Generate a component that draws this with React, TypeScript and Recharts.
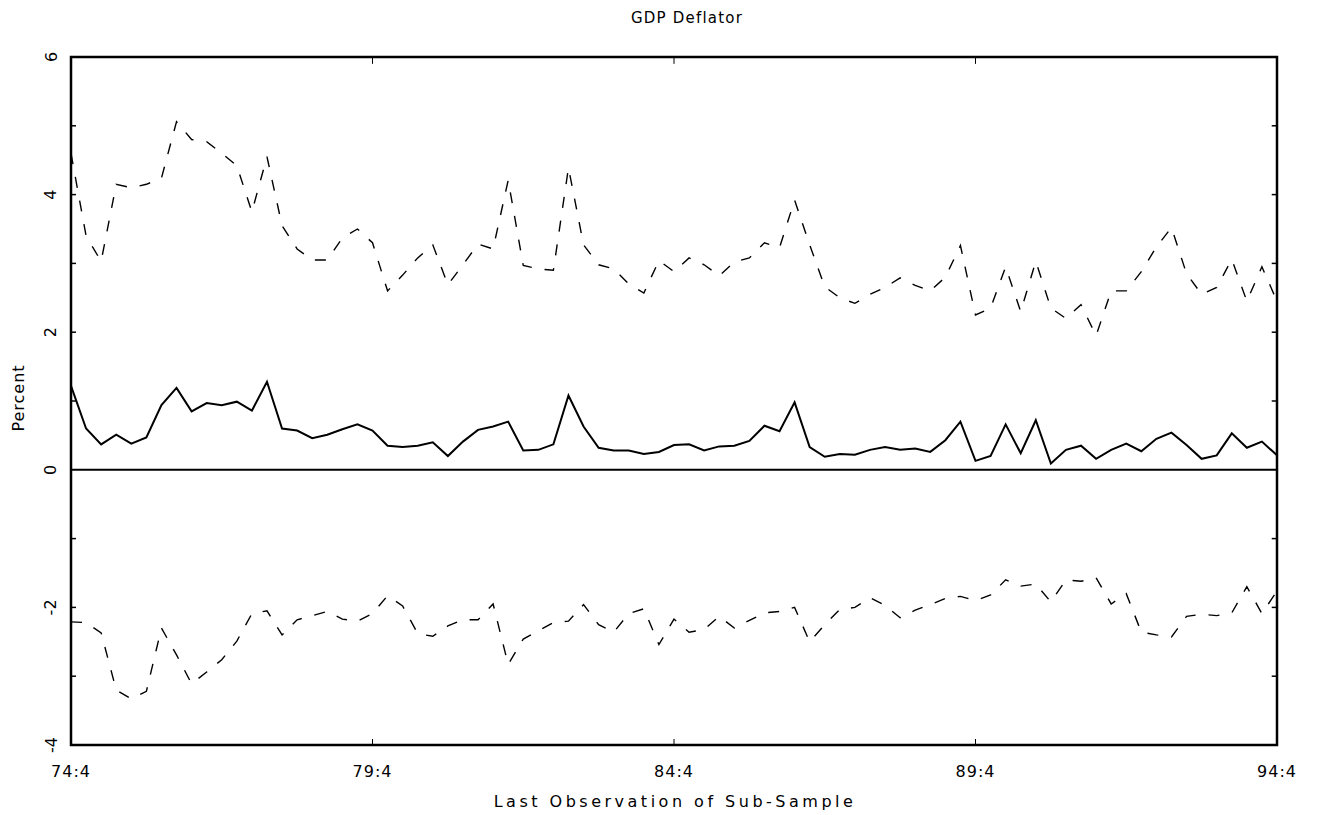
import React from "react";
import {
  LineChart,
  Line,
  XAxis,
  YAxis,
  ReferenceLine,
  ReferenceArea,
} from "recharts";

// Categories: quarters 74:4 .. 94:4
const quarters: string[] = (() => {
  const out: string[] = [];
  for (let y = 74; y <= 94; y++) {
    for (let q = 1; q <= 4; q++) {
      if (y === 74 && q < 4) continue;
      if (y === 94 && q > 4) continue;
      out.push(`${y}:${q}`);
    }
  }
  return out;
})();

const xTickLabels = ["74:4", "79:4", "84:4", "89:4", "94:4"];
const yTicks = [-4, -3, -2, -1, 0, 1, 2, 3, 4, 5, 6];

// Upper band (dashed)
const upperBand = [
  4.6, 3.4, 3.03, 4.15, 4.1, 4.15, 4.24, 5.06, 4.8, 4.77,
  4.6, 4.42, 3.75, 4.55, 3.55, 3.21, 3.05, 3.05, 3.37, 3.5,
  3.3, 2.6, 2.83, 3.08, 3.27, 2.69, 2.98, 3.28, 3.21, 4.21,
  2.97, 2.92, 2.9, 4.39, 3.27, 2.98, 2.92, 2.7, 2.57, 3.04,
  2.88, 3.08, 2.98, 2.82, 3.02, 3.08, 3.3, 3.23, 3.92, 3.27,
  2.66, 2.5, 2.42, 2.55, 2.65, 2.79, 2.68, 2.6, 2.8, 3.26,
  2.25, 2.35, 2.95, 2.3, 3.03, 2.35, 2.2, 2.4, 1.95, 2.6,
  2.6, 2.88, 3.24, 3.52, 2.85, 2.55, 2.65, 3.06, 2.45, 2.95,
  2.45,
];

// Point estimate (solid)
const estimate = [
  1.22, 0.6, 0.37, 0.51, 0.38, 0.47, 0.94, 1.19, 0.85, 0.97,
  0.94, 0.99, 0.86, 1.28, 0.6, 0.57, 0.46, 0.51, 0.59, 0.66,
  0.57, 0.35, 0.33, 0.35, 0.4, 0.2, 0.41, 0.58, 0.63, 0.7,
  0.28, 0.29, 0.37, 1.08, 0.63, 0.32, 0.28, 0.28, 0.23, 0.26,
  0.36, 0.37, 0.28, 0.34, 0.35, 0.42, 0.64, 0.56, 0.98, 0.33,
  0.19, 0.23, 0.22, 0.29, 0.33, 0.29, 0.31, 0.26, 0.43, 0.7,
  0.13, 0.2, 0.66, 0.24, 0.72, 0.09, 0.29, 0.35, 0.16, 0.29,
  0.38, 0.27, 0.45, 0.54, 0.36, 0.16, 0.21, 0.53, 0.32, 0.41,
  0.21,
];

// Lower band (dashed)
const lowerBand = [
  -2.21, -2.22, -2.37, -3.2, -3.33, -3.22, -2.3, -2.69, -3.11, -2.94,
  -2.76, -2.49, -2.09, -2.05, -2.4, -2.18, -2.12, -2.06, -2.17, -2.2,
  -2.09, -1.83, -1.98, -2.38, -2.42, -2.27, -2.18, -2.18, -1.95, -2.83,
  -2.46, -2.34, -2.22, -2.2, -1.96, -2.25, -2.36, -2.09, -2.02, -2.54,
  -2.17, -2.36, -2.32, -2.13, -2.3, -2.19, -2.08, -2.06, -2.0, -2.5,
  -2.25, -2.03, -2.0, -1.86, -1.97, -2.15, -2.04, -1.96, -1.87, -1.84,
  -1.9, -1.82, -1.6, -1.69, -1.66, -1.92, -1.6, -1.62, -1.57, -1.95,
  -1.8, -2.36, -2.4, -2.43, -2.13, -2.1, -2.12, -2.08, -1.7, -2.09,
  -1.76,
];

const data = quarters.map((q, i) => ({
  i,
  q,
  upper: upperBand[i],
  mid: estimate[i],
  lower: lowerBand[i],
}));

const xTickIdx = xTickLabels.map((l) => quarters.indexOf(l));
const lastIdx = quarters.length - 1;

const FONT = "'DejaVu Sans', sans-serif";

const XTick = (props: any) => {
  const { x, y, payload } = props;
  const inner = payload.value !== 0 && payload.value !== lastIdx;
  return (
    <g>
      {inner && <line x1={x} x2={x} y1={y} y2={y - 6} stroke="#000" strokeWidth={1} />}
      <text
        x={x}
        y={y + 26}
        textAnchor="middle"
        dominantBaseline="central"
        fontFamily={FONT}
        fontSize={16}
        letterSpacing={1}
        fill="#000"
      >
        {quarters[payload.value]}
      </text>
    </g>
  );
};

const YTick = (props: any) => {
  const { x, y, payload } = props;
  const v = payload.value as number;
  const inner = v > -4 && v < 6 && v !== 0;
  return (
    <g>
      {inner && <line x1={x} x2={x + 5} y1={y} y2={y} stroke="#000" strokeWidth={1.5} />}
      {v % 2 === 0 && (
        <text
          x={x - 20}
          y={y}
          textAnchor="middle"
          dominantBaseline="central"
          fontFamily={FONT}
          fontSize={16}
          fill="#000"
          transform={`rotate(-90, ${x - 20}, ${y})`}
        >
          {v}
        </text>
      )}
    </g>
  );
};

export default function App() {
  return (
    <div style={{ position: "relative", width: 1300, height: 806, background: "#fff" }}>
      <LineChart
        width={1300}
        height={800}
        data={data}
        margin={{ top: 49, right: 31, left: 23, bottom: 33 }}
      >
        <XAxis
          dataKey="i"
          type="number"
          domain={[0, lastIdx]}
          ticks={xTickIdx}
          tickSize={0}
          tickMargin={0}
          tickLine={false}
          axisLine={false}
          height={30}
          tick={<XTick />}
          interval={0}
        />
        <YAxis
          type="number"
          domain={[-4, 6]}
          ticks={yTicks}
          tickSize={0}
          tickMargin={0}
          tickLine={false}
          axisLine={false}
          width={40}
          tick={<YTick />}
          interval={0}
          allowDataOverflow
        />
        <ReferenceArea
          x1={0}
          x2={lastIdx}
          y1={-4}
          y2={6}
          fill="none"
          fillOpacity={0}
          stroke="#000"
          strokeWidth={2.5}
          ifOverflow="visible"
        />
        <ReferenceLine y={0} stroke="#000" strokeWidth={2} />
        {yTicks
          .filter((v) => v > -4 && v < 6 && v !== 0)
          .map((v) => (
            <ReferenceLine
              key={`ry${v}`}
              segment={[
                { x: lastIdx, y: v },
                { x: lastIdx - 0.35, y: v },
              ]}
              stroke="#000"
              strokeWidth={1.5}
              ifOverflow="visible"
            />
          ))}
        {xTickIdx
          .filter((v) => v !== 0 && v !== lastIdx)
          .map((v) => (
            <ReferenceLine
              key={`tx${v}`}
              segment={[
                { x: v, y: 6 },
                { x: v, y: 5.9 },
              ]}
              stroke="#000"
              strokeWidth={1}
              ifOverflow="visible"
            />
          ))}
        <Line
          type="linear"
          dataKey="upper"
          stroke="#000"
          strokeWidth={1.4}
          strokeDasharray="11 13"
          dot={false}
          isAnimationActive={false}
        />
        <Line
          type="linear"
          dataKey="mid"
          stroke="#000"
          strokeWidth={2}
          dot={false}
          isAnimationActive={false}
        />
        <Line
          type="linear"
          dataKey="lower"
          stroke="#000"
          strokeWidth={1.4}
          strokeDasharray="11 13"
          dot={false}
          isAnimationActive={false}
        />
      </LineChart>
      <div
        style={{
          position: "absolute",
          zIndex: 2,
          left: 529,
          width: 300,
          top: 0,
          height: 20,
          lineHeight: "20px",
          textAlign: "center",
          fontFamily: FONT,
          fontSize: 15,
          letterSpacing: 1.2,
        }}
      >
        GDP Deflator
      </div>
      <div
        style={{
          position: "absolute",
          zIndex: 2,
          left: 367,
          width: 600,
          top: 784,
          height: 20,
          lineHeight: "20px",
          textAlign: "center",
          fontFamily: FONT,
          fontSize: 16,
          letterSpacing: 3.5,
        }}
      >
        Last Observation of Sub-Sample
      </div>
      <div
        style={{
          position: "absolute",
          zIndex: 2,
          left: 11 - 50,
          width: 100,
          top: 390 - 10,
          height: 20,
          lineHeight: "20px",
          textAlign: "center",
          fontFamily: FONT,
          fontSize: 16,
          letterSpacing: 1,
          transform: "rotate(-90deg)",
        }}
      >
        Percent
      </div>
    </div>
  );
}
